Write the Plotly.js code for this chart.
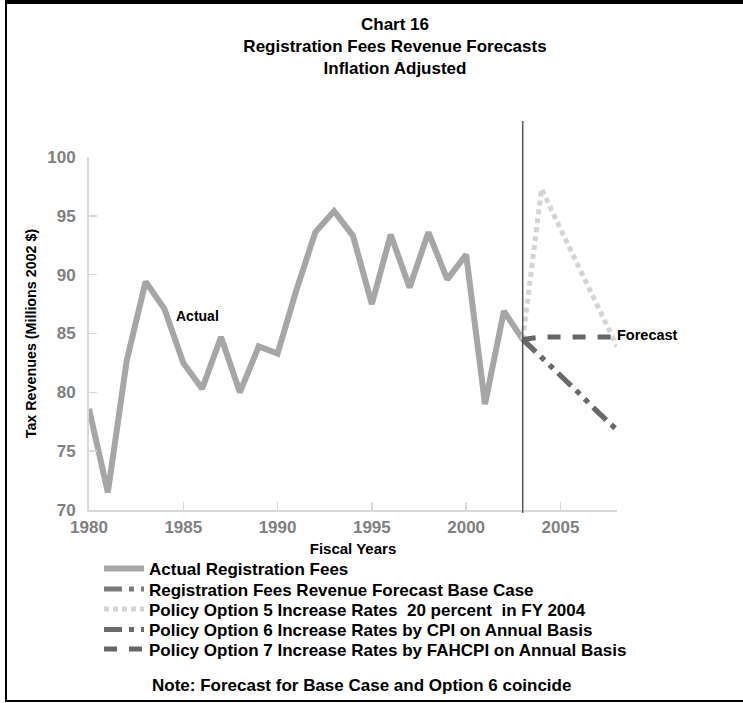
<!DOCTYPE html>
<html>
<head>
<meta charset="utf-8">
<script src="https://cdn.plot.ly/plotly-3.0.1.min.js"></script>
<style>
  html, body { margin: 0; padding: 0; background: #fff; }
  #wrap { position: relative; width: 743px; height: 703px; overflow: hidden; }
  #chart { width: 743px; height: 703px; }
  #frame { position: absolute; left: 5px; top: 0; width: 760px; height: 702px;
           border-top: 4px solid #000; border-left: 2px solid #000; border-bottom: 2px solid #000;
           box-sizing: border-box; pointer-events: none; }
</style>
</head>
<body>
<div id="wrap">
  <div id="chart"></div>
  <div id="frame"></div>
</div>
<script>
// ---- data ----
const actualYears = [1980,1981,1982,1983,1984,1985,1986,1987,1988,1989,1990,1991,1992,1993,1994,1995,1996,1997,1998,1999,2000,2001,2002,2003];
const actualFees  = [78.6,71.5,82.7,89.4,87.1,82.5,80.3,84.7,80.0,83.9,83.3,88.7,93.6,95.4,93.3,87.5,93.4,88.9,93.6,89.6,91.7,79.0,86.9,84.5];

const forecastYears = [2003,2004,2005,2006,2007,2008];
const baseCase   = [84.5,83.0,81.4,79.9,78.3,76.8];
const option5    = [84.5,97.3,93.9,90.6,87.2,83.9];
const option6    = [84.5,83.0,81.4,79.9,78.3,76.8];
const option7    = [84.5,84.7,84.7,84.7,84.7,84.7];

const seriesNames = [
  "Actual Registration Fees",
  "Registration Fees Revenue Forecast Base Case",
  "Policy Option 5 Increase Rates  20 percent  in FY 2004",
  "Policy Option 6 Increase Rates by CPI on Annual Basis",
  "Policy Option 7 Increase Rates by FAHCPI on Annual Basis"
];
const xTickVals = [1980,1985,1990,1995,2000,2005];
const forecastStartYear = 2003;

// ---- chart ----
const FONT = "Liberation Sans, Arial, Helvetica, sans-serif";
const dashDot = "18px,7px,5px,7px,5px,7px";

const W = 743, H = 703;
const L = 89, R = 126, T = 157, B = 193;
const pw = W - L - R, ph = H - T - B;
const px2x = p => (p - L) / pw;
const py2y = p => (H - B - p) / ph;

const legendIds = ["legend", "legend2", "legend3", "legend4", "legend5"];
const legendRowsPx = [569, 589.5, 609.5, 630, 649.5];

const traces = [
  { x: actualYears, y: actualFees, name: seriesNames[0], mode: "lines", legend: legendIds[0],
    line: { color: "#a6a6a6", width: 6 } },
  { x: forecastYears, y: baseCase, name: seriesNames[1], mode: "lines", legend: legendIds[1],
    line: { color: "#7a7a7a", width: 5, dash: dashDot } },
  { x: forecastYears, y: option5, name: seriesNames[2], mode: "lines", legend: legendIds[2],
    line: { color: "#d4d4d4", width: 5, dash: "5px,4px" } },
  { x: forecastYears, y: option6, name: seriesNames[3], mode: "lines", legend: legendIds[3],
    line: { color: "#6a6a6a", width: 5, dash: dashDot } },
  { x: forecastYears, y: option7, name: seriesNames[4], mode: "lines", legend: legendIds[4],
    line: { color: "#666666", width: 5, dash: "13px,12px" } }
];

const layout = {
  width: W, height: H,
  margin: { l: L, r: R, t: T, b: B, pad: 0 },
  paper_bgcolor: "#ffffff", plot_bgcolor: "#ffffff",
  font: { family: FONT, color: "#000" },
  showlegend: true,
  title: {
    text: "Chart 16<br>Registration Fees Revenue Forecasts<br>Inflation Adjusted",
    font: { family: FONT, size: 17, weight: "bold", color: "#000" },
    x: 395 / W, xref: "container", xanchor: "center",
    y: 1 - 30 / H, yref: "container", yanchor: "top"
  },
  xaxis: {
    range: [1980, 2008], tickvals: xTickVals, ticktext: xTickVals.map(String),
    showgrid: false, zeroline: false,
    showline: true, linecolor: "#d9d9d9", linewidth: 2,
    ticks: "inside", ticklen: 8, tickwidth: 1.5, tickcolor: "#d9d9d9",
    tickfont: { family: FONT, size: 17, weight: "bold", color: "#808080" },
    ticklabelstandoff: 1,
    title: { text: "Fiscal Years", font: { family: FONT, size: 15, weight: "bold", color: "#000" }, standoff: 7 }
  },
  yaxis: {
    range: [70, 100], dtick: 5, tick0: 70,
    showgrid: false, zeroline: false,
    showline: true, linecolor: "#d9d9d9", linewidth: 2,
    ticks: "inside", ticklen: 8, tickwidth: 1.5, tickcolor: "#d9d9d9",
    tickfont: { family: FONT, size: 17, weight: "bold", color: "#808080" },
    ticklabelstandoff: 8,
    title: { text: "Tax Revenues (Millions 2002 $)", font: { family: FONT, size: 14.3, weight: "bold", color: "#000" }, standoff: 7 }
  },
  shapes: [
    { type: "line", xref: "x", yref: "paper", x0: forecastStartYear, x1: forecastStartYear,
      y0: py2y(513), y1: py2y(121), line: { color: "#555555", width: 1.5 } }
  ],
  annotations: [
    { text: "Actual", x: 1985.76, y: 86.5, xref: "x", yref: "y", showarrow: false,
      xanchor: "center", yanchor: "middle",
      font: { family: FONT, size: 14, weight: "bold", color: "#000" } },
    { text: "Forecast", x: 2007.9, y: 84.9, xref: "x", yref: "y", showarrow: false,
      xanchor: "left", yanchor: "middle",
      font: { family: FONT, size: 14.5, weight: "bold", color: "#000" } },
    { text: "Note: Forecast for Base Case and Option 6 coincide", x: px2x(150), y: py2y(685),
      xref: "paper", yref: "paper", showarrow: false, xanchor: "left", yanchor: "middle",
      font: { family: FONT, size: 17, weight: "bold", color: "#000" } }
  ]
};

legendIds.forEach((id, i) => {
  layout[id] = {
    x: px2x(99), xanchor: "left",
    y: py2y(legendRowsPx[i]), yanchor: "middle",
    font: { family: FONT, size: 17, weight: "bold", color: "#000" },
    itemwidth: 40, bgcolor: "rgba(0,0,0,0)", borderwidth: 0
  };
});

Plotly.newPlot("chart", traces, layout, { displayModeBar: false, staticPlot: true });
</script>
</body>
</html>
